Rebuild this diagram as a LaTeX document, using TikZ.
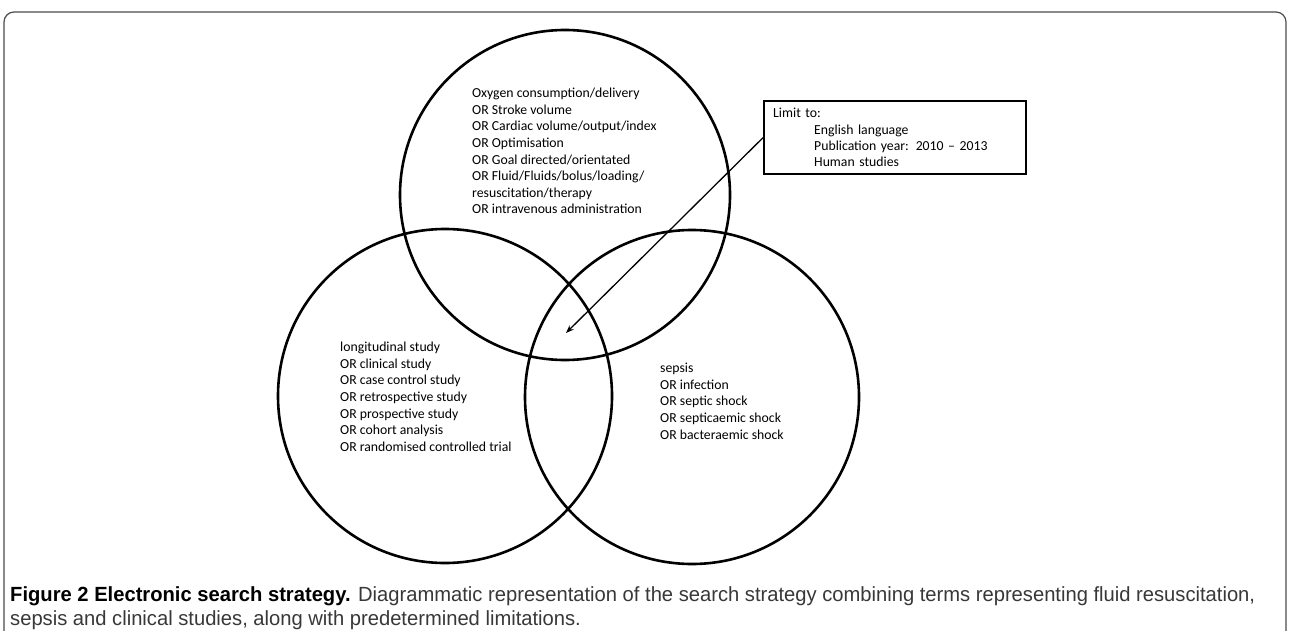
\documentclass[tikz,border=0pt]{standalone}
\usepackage{fontspec}
\setmainfont{Carlito}
\newfontfamily\capfont{Liberation Sans}
\usetikzlibrary{arrows.meta}
\newlength\capwidthA
\newcommand\capfontset{\capfont\fontsize{20.5}{24}\selectfont}
\newcommand\caplineA{\textbf{\color{black}Figure 2 Electronic search strategy.} Diagrammatic representation of the search strategy combining terms representing fluid resuscitation,}
\newcommand\caplineB{sepsis and clinical studies, along with predetermined limitations.}
\begin{document}
\settowidth\capwidthA{\capfontset\caplineA}
\pgfmathsetmacro\capscale{1245/\capwidthA}
\begin{tikzpicture}[x=1pt,y=-1pt,
  framestyle/.style={draw=black!70, line width=1.2pt, rounded corners=10pt},
  venn/.style={draw=black, line width=2.6pt, circle, inner sep=0pt},
  terms/.style={anchor=north west, align=left, inner sep=0pt,
    font=\fontsize{13.75}{16.6}\selectfont, text=black},
  limitbox/.style={draw=black, line width=2.4pt, anchor=north west,
    text width=244pt, minimum height=73pt, inner xsep=9pt, inner ysep=0pt,
    align=left, font=\fontsize{13.75}{16.4}\selectfont, text=black},
  pointer/.style={draw=black, line width=1.3pt, -{Stealth[length=8pt,width=6pt]}},
  captext/.style={anchor=base west, inner sep=0pt,
    font=\capfontset, text=black!78}]
\useasboundingbox (0,0) rectangle (1290,631);
\fill[white] (0,0) rectangle (1290,631);
% frame
\draw[framestyle] (4,650) -- (4,12) -- (1286,12) -- (1286,650);
% circles
\node[venn, minimum size=330pt] (topc) at (565,195) {};
\node[venn, minimum size=334pt] (leftc) at (445,396) {};
\node[venn, minimum size=334pt] (rightc) at (692,397) {};
% term lists
\node[terms] (fluidterms) at (472,88) {Oxygen consumption/delivery\\
OR Stroke volume\\
OR Cardiac volume/output/index\\
OR Optimisation\\
OR Goal directed/orientated\\
OR Fluid/Fluids/bolus/loading/\\
resuscitation/therapy\\
OR intravenous administration};
\node[terms] (studyterms) at (340,342) {longitudinal study\\
OR clinical study\\
OR case control study\\
OR retrospective study\\
OR prospective study\\
OR cohort analysis\\
OR randomised controlled trial};
\node[terms] (sepsisterms) at (660,363) {sepsis\\
OR infection\\
OR septic shock\\
OR septicaemic shock\\
OR bacteraemic shock};
% limits box
\node[limitbox] (limits) at (763,100) {Limit to:\\
\hspace*{41pt}English language\\
\hspace*{41pt}Publication year: 2010 -- 2013\\
\hspace*{41pt}Human studies};
\coordinate (centre) at (566,333);
\draw[pointer] (limits.west) -- (centre);
% caption
\node[captext] (cap1) at (10,601) {\scalebox{\capscale}[1]{\caplineA}};
\node[captext] (cap2) at (10,625) {\scalebox{\capscale}[1]{\caplineB}};
\end{tikzpicture}
\end{document}
